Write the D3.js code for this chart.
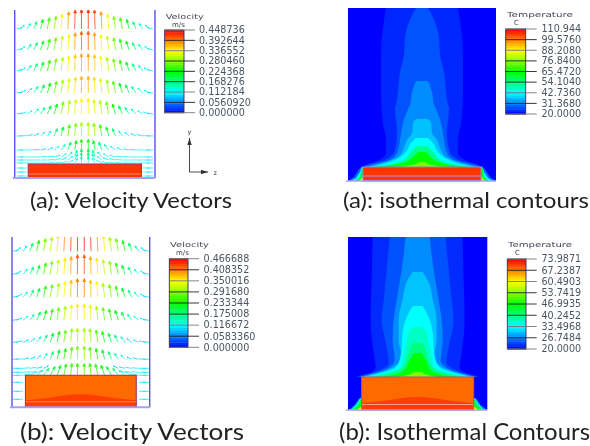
<!DOCTYPE html>
<html><head><meta charset="utf-8">
<script src="https://cdn.jsdelivr.net/npm/d3@7"></script>
<style>html,body{margin:0;padding:0;background:#fff}svg{display:block}</style>
</head><body><svg id="c" width="590" height="446"></svg>
<script>
// ---------- data ----------
const velTicksA = ["0.448736","0.392644","0.336552","0.280460","0.224368","0.168276","0.112184","0.0560920","0.000000"];
const velTicksB = ["0.466688","0.408352","0.350016","0.291680","0.233344","0.175008","0.116672","0.0583360","0.000000"];
const tempTicksA = ["110.944","99.5760","88.2080","76.8400","65.4720","54.1040","42.7360","31.3680","20.0000"];
const tempTicksB = ["73.9871","67.2387","60.4903","53.7419","46.9935","40.2452","33.4968","26.7484","20.0000"];
const captions = ["(a): Velocity Vectors","(a): isothermal contours","(b): Velocity Vectors","(b): Isothermal Contours"];

// column offsets from the centre-line
const columns = [3.4,10.2,17,23.8,30.6,37.4,44.2,51,57.8,64.6,68];

// velocity rows, panel (a): height, upward component, inward component
const rowHeightsA = [149,128,107,85,64,42,28,21,18,15,10,6,2];
const vyA = [
 [.43,.42,.38,.33,.28,.25,.21,.16,.12,.08,.03],
 [.41,.38,.34,.31,.27,.24,.20,.16,.12,.08,.03],
 [.38,.36,.33,.30,.27,.24,.20,.16,.12,.07,.03],
 [.37,.35,.32,.29,.26,.22,.18,.14,.10,.06,.02],
 [.34,.32,.30,.27,.22,.18,.14,.11,.07,.04,.02],
 [.30,.28,.25,.20,.16,.11,.08,.05,.03,.01,.005],
 [.24,.21,.17,.12,.08,.05,.025,.01,.005,.002,.002],
 [.18,.15,.11,.07,.04,.02,.01,0,0,0,0],
 [.16,.13,.08,.05,.03,.01,0,0,0,0,0],
 [.14,.10,.06,.03,.02,.01,0,0,0,0,0],
 [null,null,null,null,null,null,null,null,null,0,0],
 [null,null,null,null,null,null,null,null,null,0,0],
 [null,null,null,null,null,null,null,null,null,0,0]];
const vzA = [
 [0,.01,.015,.02,.03,.035,.04,.05,.06,.07,.09],
 [0,.01,.02,.025,.03,.04,.05,.06,.07,.08,.09],
 [0,.01,.02,.03,.035,.04,.05,.06,.07,.085,.09],
 [0,.015,.025,.03,.04,.05,.06,.07,.08,.09,.09],
 [0,.02,.03,.04,.05,.06,.07,.08,.085,.10,.09],
 [0,.02,.03,.04,.05,.06,.07,.08,.09,.105,.095],
 [0,.03,.05,.07,.08,.085,.09,.095,.105,.11,.10],
 [0,.04,.07,.085,.095,.10,.10,.105,.11,.11,.10],
 [0,.05,.08,.09,.10,.105,.105,.105,.11,.11,.10],
 [0,.05,.085,.10,.105,.105,.105,.11,.11,.11,.10],
 [null,null,null,null,null,null,null,null,null,.11,.10],
 [null,null,null,null,null,null,null,null,null,.11,.10],
 [null,null,null,null,null,null,null,null,null,.11,.10]];

// velocity rows, panel (b)
const rowHeightsB = [156,133,110,87,65,48,39,35,32,25,16,8];
const vyB = [
 [.46,.44,.40,.36,.31,.28,.24,.18,.12,.08,.03],
 [.43,.39,.36,.32,.29,.25,.20,.16,.11,.07,.03],
 [.41,.38,.35,.31,.28,.25,.20,.16,.11,.07,.03],
 [.36,.34,.31,.28,.25,.22,.18,.13,.09,.05,.02],
 [.31,.30,.27,.24,.20,.16,.12,.08,.05,.03,.01],
 [.29,.27,.24,.21,.17,.13,.09,.05,.03,.01,.005],
 [null,null,null,null,null,.05,.03,.02,.01,0,0],
 [null,null,null,null,null,null,.03,.015,.01,0,0],
 [.26,.26,.25,.22,.19,.15,.11,.07,.03,0,0],
 [null,null,null,null,null,null,null,null,null,0,0],
 [null,null,null,null,null,null,null,null,null,0,0],
 [null,null,null,null,null,null,null,null,null,0,0]];
const vzB = [
 [0,.01,.015,.02,.03,.035,.04,.05,.06,.07,.09],
 [0,.01,.02,.025,.03,.04,.05,.06,.07,.08,.09],
 [0,.01,.02,.03,.035,.04,.05,.06,.07,.085,.09],
 [0,.015,.025,.03,.04,.05,.06,.07,.08,.09,.09],
 [0,.02,.03,.04,.05,.06,.07,.08,.085,.10,.09],
 [0,.02,.03,.04,.05,.06,.07,.08,.09,.105,.095],
 [null,null,null,null,null,.08,.09,.10,.105,.11,.10],
 [null,null,null,null,null,null,.10,.105,.11,.11,.10],
 [0,.02,.04,.06,.08,.09,.10,.105,.11,.11,.10],
 [null,null,null,null,null,null,null,null,null,.11,.10],
 [null,null,null,null,null,null,null,null,null,.11,.10],
 [null,null,null,null,null,null,null,null,null,.11,.10]];

// isotherms: temperature and [height, half-width] outlines
const levelsA = [23.6,27.3,32.5,37.3,42.7,52.7,65.5,76.4];
const isoA = [
 [[173,36],[126,41],[91,41],[58,39],[41,36],[28,36],[21,43],[16,55],[14,62]],
 [[173,6],[159,13],[143,17],[126,18],[109,22],[76,26],[74,27],[48,25],[31,27],[21,37],[17,53],[14,60]],
 [[100,6],[89,10],[76,12],[74,13],[58,19],[41,22],[28,25],[21,32],[17,47],[14,58]],
 [[62,6],[58,9],[48,10],[41,15],[31,19],[24,24],[18,40],[14,55]],
 [[43,6],[38,11],[28,17],[21,27],[17,38],[14,52]],
 [[35,5],[28,12],[21,18],[17,30],[14,48]],
 [[29,4],[24,9],[19,16],[16,30],[14,45]],
 [[19,3],[16,10],[14,25]]];
const levelsB = [22.2,24.3,27.4,30.3,33.5,36.7,40.5,47,53.5];
const isoB = [
 [[173,45],[128,46],[90,47],[57,44],[43,42],[38,46],[35,56],[33,62]],
 [[173,28],[140,31],[110,34],[90,36],[63,31],[47,29],[40,38],[35,53],[33,60]],
 [[173,12],[140,16],[110,21],[90,24],[70,25],[50,23],[40,33],[35,50],[33,58]],
 [[138,5],[128,11],[111,15],[90,19],[70,19],[53,16],[42,26],[35,48],[33,56]],
 [[104,5],[95,10],[78,15],[63,16],[50,18],[42,23],[35,45],[33,54]],
 [[83,4],[80,8],[67,11],[53,14],[43,16],[35,40],[33,50]],
 [[67,5],[57,9],[47,12],[40,18],[35,35],[33,46]],
 [[57,4],[48,9],[40,13],[35,25],[33,40]],
 [[38,4],[35,10],[33,20]]];
// side wedges at the foot of the heat source: temperature, [half-width, height]
const wedgeTempsA = [29.1,42.7,60.9,88.2];
const wedgesA = [
 [[59,0],[74,0],[68,4],[63,12],[59,14]],
 [[59,0],[72,0],[66,3],[62,9],[60.5,14],[59,14]],
 [[59,0],[67,0],[62,4],[60.5,13],[59,13]],
 [[59,0],[63,0],[60,3],[59,5]]];
const wedgeTempsB = [26.5,36.2,44.3,60.5];
const wedgesB = [
 [[56,0],[69,0],[63,5],[59,11],[56,13]],
 [[56,0],[67,0],[61,6],[58,11],[56,12]],
 [[56,0],[65,0],[59,6],[57.5,10],[56,10]],
 [[56,0],[61,0],[58,2],[56,4]]];
// hot core under the enlarged source in case (b): [half-width, height]
const bumpB = [[-55,7],[-35,9],[-15,12],[0,13],[15,12],[35,9],[55,7]];

// ---------- helpers ----------
const svg = d3.select("#c");
const defs = svg.append("defs");
defs.append("filter").attr("id","soft").attr("x","-5%").attr("y","-5%").attr("width","110%").attr("height","110%")
  .append("feGaussianBlur").attr("stdDeviation",0.4);
defs.append("filter").attr("id","softT").attr("x","-5%").attr("y","-5%").attr("width","110%").attr("height","110%")
  .append("feGaussianBlur").attr("stdDeviation",0.3);
const rainbow = t => d3.hsl(240*(1-Math.max(0,Math.min(1,t))),1,.5).formatHex();

function legend(g, cfg){
  const y = d3.scaleLinear().domain([1,0]).range([cfg.y0,cfg.y1]);
  const bands = d3.range(36).map(i=>i/36);
  g.selectAll("rect.b").data(bands).join("rect").attr("class","b")
    .attr("x",cfg.x0).attr("width",cfg.x1-cfg.x0)
    .attr("y",d=>y(d+1/36)).attr("height",(cfg.y1-cfg.y0)/36+.4)
    .attr("fill",d=>rainbow(d+1/72));
  g.append("rect").attr("x",cfg.x0).attr("y",cfg.y0).attr("width",cfg.x1-cfg.x0).attr("height",cfg.y1-cfg.y0)
    .attr("fill","none").attr("stroke","#30305a").attr("stroke-width",.9);
  const axisScale = d3.scalePoint().domain(cfg.ticks).range([cfg.y0,cfg.y1]);
  cfg.ticks.forEach((t,i)=>{
    g.append("line").attr("x1",cfg.x0).attr("x2",cfg.tickEnd)
      .attr("y1",axisScale(t)).attr("y2",axisScale(t))
      .attr("stroke",i==0||i==8||i==2||i==6?"#777":"#222").attr("stroke-width",.9);
    g.append("text").attr("x",cfg.labelX).attr("y",axisScale(t)+3.3).text(t)
      .attr("font-family","DejaVu Sans").attr("font-size",9.6).attr("fill","#4a5560");
  });
  g.append("text").attr("x",cfg.titleX).attr("y",cfg.titleY).text(cfg.title)
    .attr("font-family","DejaVu Sans").attr("font-size",7).attr("fill","#445")
    .attr("textLength",cfg.titleW).attr("lengthAdjust","spacingAndGlyphs");
  g.append("text").attr("x",cfg.unitX).attr("y",cfg.unitY).text(cfg.unit)
    .attr("font-family","DejaVu Sans").attr("font-size",7).attr("fill","#445");
}

function vectors(g, p, heights, vy, vz){
  const X = d3.scaleLinear().domain([-p.hw,p.hw]).range([p.x0,p.x1]);
  const Y = d3.scaleLinear().domain([0,p.top]).range([p.yb,p.yt]);
  const L = d3.scaleLinear().domain([0,.45]).range([0,20.5]);
  const LZ = d3.scaleLinear().domain([0,.45]).range([0,27]);
  const sp = d3.scaleLinear().domain([0,p.vmax]).range([0,1]);
  const clipId = "clip"+p.id;
  defs.append("clipPath").attr("id",clipId).append("rect")
    .attr("x",p.x0).attr("width",p.x1-p.x0).attr("y",p.yt).attr("height",p.yb-p.yt);
  const ag = g.append("g").attr("clip-path",`url(#${clipId})`);
  const arrows = [];
  heights.forEach((h,r)=>columns.forEach((c,k)=>{
    if(vy[r][k]===null) return;
    [-1,1].forEach(s=>arrows.push({z:s*c,s,h,vy:vy[r][k],vz:vz[r][k]}));
  }));
  ag.selectAll("path").data(arrows).join("path")
    .attr("d",d=>{
      const x=X(d.z), y=Y(d.h), dx=-d.s*LZ(d.vz), dy=-L(d.vy), n=Math.hypot(dx,dy)||1;
      const ux=dx/n, uy=dy/n, tilt=Math.abs(uy);
      const hl=Math.min(3,n*.33)*tilt, hw=Math.min(1.4,n*.16)*tilt;
      const pth=d3.path();
      pth.moveTo(x,y); pth.lineTo(x+dx,y+dy);
      pth.moveTo(x+dx,y+dy); pth.lineTo(x+dx-ux*hl-uy*hw,y+dy-uy*hl+ux*hw);
      pth.lineTo(x+dx-ux*hl+uy*hw,y+dy-uy*hl-ux*hw); pth.closePath();
      return pth.toString();
    })
    .attr("fill",d=>rainbow(sp(Math.hypot(d.vy,d.vz))))
    .attr("stroke",d=>rainbow(sp(Math.hypot(d.vy,d.vz))))
    .attr("stroke-width",.8).attr("opacity",.95);
  return {X,Y};
}

function source(g, X, Y, p){
  g.append("rect").attr("x",X(-p.bhw)).attr("width",X(p.bhw)-X(-p.bhw))
    .attr("y",Y(p.bh)).attr("height",Y(0)-Y(p.bh)).attr("fill",p.blockFill);
  if(p.bump){
    g.append("path").datum(p.bump)
      .attr("d",d3.area().x(d=>X(d[0])).y0(Y(0)).y1(d=>Y(d[1])).curve(d3.curveMonotoneX))
      .attr("fill","#ff3c00");
  }
  g.append("line").attr("x1",X(-p.bhw)).attr("x2",X(p.bhw)).attr("y1",Y(p.sh)).attr("y2",Y(p.sh))
    .attr("stroke",p.stripe).attr("stroke-width",1);
  g.append("rect").attr("x",X(-p.bhw)).attr("width",X(p.bhw)-X(-p.bhw))
    .attr("y",Y(p.bh)).attr("height",Y(0)-Y(p.bh)).attr("fill","none")
    .attr("stroke",p.edge).attr("stroke-width",1.1);
}

function walls(g,p){
  g.append("line").attr("x1",p.x0).attr("x2",p.x0).attr("y1",p.yt).attr("y2",p.yb).attr("stroke","#5a50e8").attr("stroke-width",1.4);
  g.append("line").attr("x1",p.x1).attr("x2",p.x1).attr("y1",p.yt).attr("y2",p.yb).attr("stroke","#5a50e8").attr("stroke-width",1.4);
  g.append("line").attr("x1",p.x0-2).attr("x2",p.x1).attr("y1",p.yb).attr("y2",p.yb).attr("stroke","#a79ff0").attr("stroke-width",2);
}

function contours(g,p,levels,iso,wedgeT,wedges){
  const X = d3.scaleLinear().domain([-p.hw,p.hw]).range([p.x0,p.x1]);
  const Y = d3.scaleLinear().domain([0,p.top]).range([p.yb,p.yt]);
  const C = d3.scaleLinear().domain(p.range).range([0,1]);
  g.append("rect").attr("x",p.x0).attr("y",p.yt).attr("width",p.x1-p.x0).attr("height",p.yb-p.yt).attr("fill","#0000ff");
  const area = d3.area().y(d=>Y(d[0])).x0(d=>X(-d[1])).x1(d=>X(d[1])).curve(d3.curveMonotoneY);
  iso.forEach((o,i)=>g.append("path").datum(o).attr("d",area).attr("fill",rainbow(C(levels[i]))));
  const poly = d3.line().x(d=>X(d[0])).y(d=>Y(d[1]));
  wedges.forEach((w,i)=>[1,-1].forEach(s=>{
    g.append("path").datum(w.map(d=>[s*d[0],d[1]])).attr("d",d=>poly(d)+"Z").attr("fill",rainbow(C(wedgeT[i])));
  }));
  source(g,X,Y,p);
  g.append("line").attr("x1",p.x0-2).attr("x2",p.x1).attr("y1",p.yb).attr("y2",p.yb).attr("stroke","#a79ff0").attr("stroke-width",1.6);
}

// ---------- panels ----------
const plot = svg.append("g").attr("filter","url(#soft)");

// (a) velocity
const pVA={id:"va",x0:14.7,x1:155,yb:178,yt:10,hw:70,top:168,vmax:.448736,bhw:56.5,bh:14,sh:4,
  blockFill:"#ff3400",stripe:"#ff8a70",edge:"#a8306a"};
const gVA=plot.append("g");
const sVA=vectors(gVA,pVA,rowHeightsA,vyA,vzA);
source(gVA,sVA.X,sVA.Y,pVA); walls(gVA,pVA);
legend(plot.append("g"),{x0:164.7,x1:184,y0:30,y1:112.7,tickEnd:195,labelX:199,ticks:velTicksA,
  title:"Velocity",titleX:165.7,titleY:19,titleW:38,unit:"m/s",unitX:172,unitY:27});

// coordinate triad
const tri=plot.append("g").attr("stroke","#333").attr("fill","#333");
const triX=d3.scaleLinear().domain([0,1]).range([189.5,208]);
const triY=d3.scaleLinear().domain([0,1]).range([172,138]);
tri.append("line").attr("x1",triX(0)).attr("x2",triX(0)).attr("y1",triY(0)).attr("y2",triY(1)).attr("stroke-width",.9);
tri.append("line").attr("x1",triX(0)).attr("x2",triX(1)).attr("y1",triY(0)).attr("y2",triY(0)).attr("stroke-width",.9);
tri.append("path").attr("stroke","none").attr("d",d3.line()([[triX(0),triY(1)],[triX(0)-2.2,triY(1)+7],[triX(0)+2.2,triY(1)+7]])+"Z");
tri.append("path").attr("stroke","none").attr("d",d3.line()([[triX(1),triY(0)],[triX(1)-7,triY(0)-2.2],[triX(1)-7,triY(0)+2.2]])+"Z");
tri.append("text").attr("x",triX(0)).attr("y",134).attr("text-anchor","middle").attr("stroke","none")
  .attr("font-family","DejaVu Sans").attr("font-size",6.5).text("y");
tri.append("text").attr("x",213.5).attr("y",175).attr("stroke","none")
  .attr("font-family","DejaVu Sans").attr("font-size",6.5).text("z");

// (a) temperature
const pTA={x0:348,x1:496,yb:181,yt:8,hw:74,top:173,range:[20,110.944],bhw:59,bh:14,sh:5,
  blockFill:"#ff3400",stripe:"#b090e0",edge:"#9a7ac0"};
contours(plot.append("g"),pTA,levelsA,isoA,wedgeTempsA,wedgesA);
legend(plot.append("g"),{x0:505.7,x1:525.7,y0:29,y1:114,tickEnd:536.7,labelX:541.5,ticks:tempTicksA,
  title:"Temperature",titleX:507,titleY:17,titleW:66,unit:"C",unitX:514,unitY:25});

// (b) velocity
const pVB={id:"vb",x0:12,x1:149.7,yb:407.3,yt:237,hw:68.85,top:170.3,vmax:.466688,bhw:55.4,bh:32,sh:5.5,
  blockFill:"#ff6a00",stripe:"#ff8a70",edge:"#a8306a",bump:bumpB};
const gVB=plot.append("g");
const sVB=vectors(gVB,pVB,rowHeightsB,vyB,vzB);
source(gVB,sVB.X,sVB.Y,pVB); walls(gVB,pVB);
legend(plot.append("g"),{x0:169.3,x1:188,y0:258.7,y1:347.3,tickEnd:199,labelX:203.5,ticks:velTicksB,
  title:"Velocity",titleX:170,titleY:247,titleW:39,unit:"m/s",unitX:176,unitY:255});

// (b) temperature
const pTB={x0:348,x1:487.3,yb:410,yt:237,hw:69.65,top:173,range:[20,73.9871],bhw:56,bh:33,sh:5.5,
  blockFill:"#ff6a00",stripe:"#ff9a80",edge:"#c0506a",bump:bumpB};
contours(plot.append("g"),pTB,levelsB,isoB,wedgeTempsB,wedgesB);
legend(plot.append("g"),{x0:507.3,x1:526,y0:259,y1:349,tickEnd:536.7,labelX:541.5,ticks:tempTicksB,
  title:"Temperature",titleX:508,titleY:247,titleW:64,unit:"C",unitX:515,unitY:255});

// captions
const capPos=[{x:30,y:208,w:202,s:22},{x:343,y:208,w:246,s:22},{x:20,y:440,w:224,s:24},{x:339,y:440,w:251,s:23}];
svg.append("g").attr("filter","url(#softT)").selectAll("text").data(captions).join("text")
  .attr("x",(d,i)=>capPos[i].x).attr("y",(d,i)=>capPos[i].y).text(d=>d)
  .attr("font-family","Lato").attr("font-size",(d,i)=>capPos[i].s).attr("fill","#222")
  .attr("textLength",(d,i)=>capPos[i].w).attr("lengthAdjust","spacingAndGlyphs");
</script></body></html>
